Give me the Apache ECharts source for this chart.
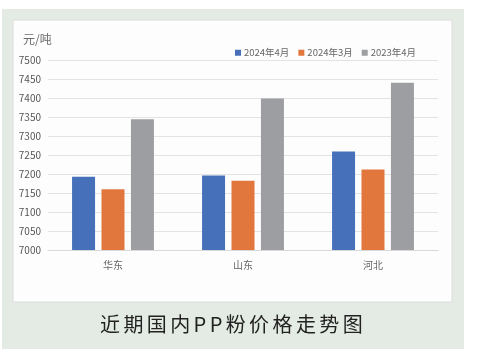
<!DOCTYPE html>
<html><head><meta charset="utf-8">
<script src="https://cdn.jsdelivr.net/npm/echarts@6/dist/echarts.min.js"></script>
<style>html,body{margin:0;padding:0;background:#fff}#c{width:483px;height:358px;position:relative}
#t{position:absolute;left:100px;top:312px;font:20px "Noto Sans CJK SC","Noto Sans",sans-serif;letter-spacing:3.4px;color:#222;white-space:nowrap;line-height:24px;z-index:5}</style>
</head><body><div id="c"></div><div id="t">近期国内PP粉价格走势图</div>
<script>
const categories = ['华东', '山东', '河北'];
const seriesNames = ['2024年4月', '2024年3月', '2023年4月'];
const apr2024 = [7193, 7196, 7259];
const mar2024 = [7160, 7182, 7212];
const apr2023 = [7344, 7399, 7440];
const colors = ['#4670b9', '#e2773d', '#9d9ea1'];

const chart = echarts.init(document.getElementById('c'));
const font = '"Noto Sans CJK SC", "Noto Sans", sans-serif';
chart.setOption({
  animation: false,
  graphic: [
    {type: 'rect', shape: {x: 2, y: 9, width: 462, height: 340}, style: {fill: '#e4ebe4'}, z: -10},
    {type: 'rect', shape: {x: 13, y: 20, width: 439, height: 282}, style: {fill: '#fdfdfd', stroke: '#dcdcdc', lineWidth: 1}, z: -9},
    {type: 'text', left: 23, top: 33, style: {text: '元/吨', fill: '#6b6b6b', font: '12px ' + font}}
  ],
  legend: {
    top: 43, left: 230, itemWidth: 6, itemHeight: 6, itemGap: 9,
    icon: 'rect',
    textStyle: {color: '#666', fontSize: 9.5, fontFamily: font, padding: [0, 0, 0, -2]},
    data: seriesNames
  },
  grid: {left: 48, right: 45, top: 60, bottom: 108, containLabel: false},
  xAxis: {
    type: 'category', data: categories,
    axisLine: {lineStyle: {color: '#d9d9d9'}},
    axisTick: {show: false},
    axisLabel: {color: '#666', fontSize: 10, fontFamily: font, margin: 10}
  },
  yAxis: {
    type: 'value', min: 7000, max: 7500, interval: 50,
    axisLine: {show: false}, axisTick: {show: false},
    axisLabel: {color: '#555', fontSize: 10, fontFamily: font, margin: 7, align: 'right', formatter: v => String(v)},
    splitLine: {lineStyle: {color: '#e3e3e3'}}
  },
  series: [
    {name: seriesNames[0], type: 'bar', data: apr2024, barWidth: 23, barGap: '28%', itemStyle: {color: colors[0]}},
    {name: seriesNames[1], type: 'bar', data: mar2024, barWidth: 23, barGap: '28%', itemStyle: {color: colors[1]}},
    {name: seriesNames[2], type: 'bar', data: apr2023, barWidth: 23, barGap: '28%', itemStyle: {color: colors[2]}}
  ]
});
</script></body></html>
